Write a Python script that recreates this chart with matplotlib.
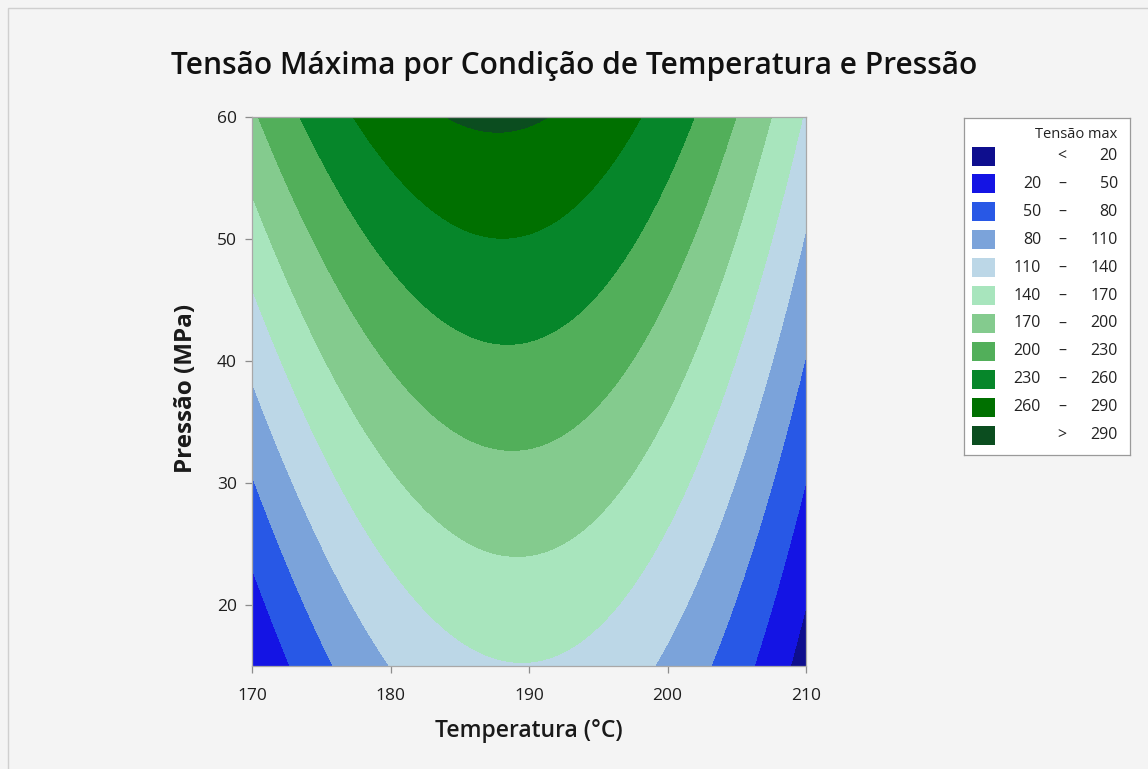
#Grafico de contorno: tensao maxima em funcao de temperatura e pressao

import matplotlib
matplotlib.use('Agg')
import matplotlib.pyplot as plt
import numpy as np
from matplotlib.patches import Rectangle

plt.rcParams['font.family'] = ['Open Sans', 'DejaVu Sans']

#Faixas dos eixos
temp_lim = [170, 210]          #Temperatura (C)
pres_lim = [15, 60]            #Pressao (MPa)
temp_ticks = [170, 180, 190, 200, 210]
pres_ticks = [20, 30, 40, 50, 60]

pressao_ref = [15, 60]         #MPa
tensao_crista = [139.0, 294.3] #valor maximo da tensao na crista
temp_crista = [189.5, 187.7]   #temperatura onde fica a crista
curvatura = 0.317              #queda da tensao por (C)^2 afastado da crista

#Faixas da legenda
limites = [20, 50, 80, 110, 140, 170, 200, 230, 260, 290]
cores = ['#0e0e8e', '#1414e4', '#2858e6', '#7ba3da', '#bcd7e7',
         '#a8e5bd', '#84cb8e', '#52af5a', '#06862a', '#007000', '#0b4d1f']

#Malha
T = np.linspace(temp_lim[0], temp_lim[1], 301)
P = np.linspace(pres_lim[0], pres_lim[1], 301)
TT, PP = np.meshgrid(T, P)
crista = np.interp(PP, pressao_ref, tensao_crista)
t0 = np.interp(PP, pressao_ref, temp_crista)
Z = crista - curvatura*(TT - t0)**2

W, H = 1148, 769
fig = plt.figure(figsize=(W/100, H/100), dpi=100)
fig.patch.set_facecolor('#f4f4f4')
fig.patches.append(Rectangle((8/W, -0.01), 1.02, 1 - 8/H + 0.01, transform=fig.transFigure,
                             fill=False, edgecolor='#cfcfcf', lw=1))

ax = fig.add_axes([252/W, 1 - 666/H, (806-252)/W, (666-117)/H])
niveis = [-1e4] + limites + [1e4]
ax.contourf(TT, PP, Z, levels=niveis, colors=cores)
ax.set_xlim(temp_lim)
ax.set_ylim(pres_lim)
ax.set_xticks(temp_ticks)
ax.set_yticks(pres_ticks)
for s in ax.spines.values():
    s.set_color('#a8a8a8')
    s.set_linewidth(0.9)
ax.tick_params(direction='out', length=5, width=0.9, color='#8c8c8c',
               labelsize=12.5, labelcolor='#1e1e1e')
ax.tick_params(axis='x', pad=11)
ax.tick_params(axis='y', pad=6)

fig.text(0.5, 1 - 66/H, 'Tensão Máxima por Condição de Temperatura e Pressão',
         ha='center', va='center', fontsize=21.5, color='#111111', fontweight='semibold')
fig.text(529/W, 1 - 731/H, 'Temperatura (°C)', ha='center', va='center',
         fontsize=16.5, color='#1a1a1a', fontweight='semibold')
fig.text(186/W, 1 - 388/H, 'Pressão (MPa)', ha='center', va='center',
         rotation=90, fontsize=17.5, color='#1a1a1a', fontweight='bold')

#Legenda desenhada em eixo proprio (coordenadas em pixels)
lg = fig.add_axes([964/W, 1 - 455/H, (1130-964)/W, (455-118)/H])
lg.set_xlim(964, 1130)
lg.set_ylim(455, 118)
lg.set_xticks([])
lg.set_yticks([])
lg.set_facecolor('white')
for s in lg.spines.values():
    s.set_color('#9a9a9a')
    s.set_linewidth(0.9)
lg.text(1117, 134, 'Tensão max', ha='right', va='center', fontsize=10.5,
        color='#222222')

rotulos = []
rotulos.append(('', '<', str(limites[0])))
for a, b in zip(limites[:-1], limites[1:]):
    rotulos.append((str(a), '–', str(b)))
rotulos.append(('', '>', str(limites[-1])))

y0, dy = 156, 27.9
for i, (cor, (esq, meio, dir_)) in enumerate(zip(cores, rotulos)):
    y = y0 + i*dy
    lg.add_patch(Rectangle((972, y - 9.5), 23, 19, facecolor=cor, edgecolor='none'))
    if esq:
        lg.text(1041, y, esq, ha='right', va='center', fontsize=11.5, color='#222222')
    lg.text(1062, y, meio, ha='center', va='center', fontsize=11.5, color='#222222')
    lg.text(1118, y, dir_, ha='right', va='center', fontsize=11.5, color='#222222')

fig.savefig('out.png', dpi=100, facecolor=fig.get_facecolor())
